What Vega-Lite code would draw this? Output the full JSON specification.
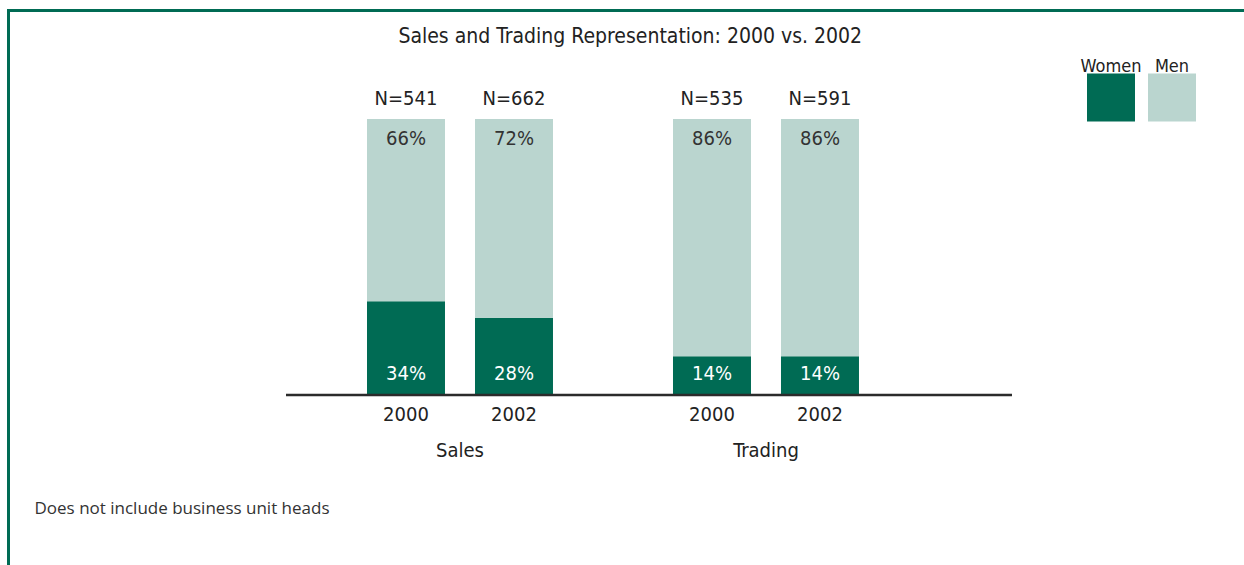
{
  "$schema": "https://vega.github.io/schema/vega-lite/v6.json",
  "autosize": {"type": "none"},
  "padding": {"left": 8.5, "top": 10.5, "right": -8, "bottom": -8},
  "width": 1243.5,
  "height": 562.5,
  "background": "white",
  "title": {
    "text": "Sales and Trading Representation: 2000 vs. 2002",
    "offset": -53,
    "baseline": "alphabetic",
    "anchor": "middle",
    "font": "DejaVu Sans Condensed, sans-serif",
    "fontSize": 21,
    "fontWeight": "normal",
    "color": "#222222"
  },
  "data": {
    "values": [
      {"group": "Sales", "year": "2000", "gender": "Women", "pct": 0.34, "nLabel": "N=541"},
      {"group": "Sales", "year": "2000", "gender": "Men", "pct": 0.66, "nLabel": "N=541"},
      {"group": "Sales", "year": "2002", "gender": "Women", "pct": 0.28, "nLabel": "N=662"},
      {"group": "Sales", "year": "2002", "gender": "Men", "pct": 0.72, "nLabel": "N=662"},
      {"group": "Trading", "year": "2000", "gender": "Women", "pct": 0.14, "nLabel": "N=535"},
      {"group": "Trading", "year": "2000", "gender": "Men", "pct": 0.86, "nLabel": "N=535"},
      {"group": "Trading", "year": "2002", "gender": "Women", "pct": 0.14, "nLabel": "N=591"},
      {"group": "Trading", "year": "2002", "gender": "Men", "pct": 0.86, "nLabel": "N=591"}
    ]
  },
  "layer": [
    {
      "mark": {"type": "bar"},
      "encoding": {
        "x": {
          "field": "group", "type": "nominal",
          "scale": {"domain": ["Sales", "Trading", " "], "paddingInner": 0, "paddingOuter": 0.5319, "align": 0.917},
          "axis": {
            "orient": "top", "domain": false, "ticks": false, "labels": false, "grid": false,
            "title": "Does not include business unit heads",
            "titleX": 25.5, "titleY": 503, "titleAlign": "left", "titleAnchor": "start",
            "titleBaseline": "alphabetic", "titleFont": "Open Sans", "titleFontSize": 17,
            "titleFontWeight": "normal", "titleColor": "#333333"
          }
        },
        "xOffset": {
          "field": "year", "type": "nominal",
          "scale": {"paddingInner": 0.2778, "paddingOuter": 0.5556}
        },
        "y": {
          "field": "pct", "type": "quantitative", "stack": "zero",
          "scale": {"domain": [-0.6449, 1.3931], "nice": false, "zero": false},
          "axis": null
        },
        "color": {
          "field": "gender", "type": "nominal",
          "scale": {"domain": ["Women", "Men"], "range": ["#006B54", "#BAD5CF"]},
          "legend": {
            "title": null, "orient": "none", "legendX": 1078.5, "legendY": 63,
            "direction": "horizontal", "symbolType": "square", "symbolSize": 2304,
            "symbolStrokeWidth": 0, "labelAlign": "center", "labelOffset": -24,
            "labelBaseline": "alphabetic",
            "labelFont": "DejaVu Sans Condensed, sans-serif",
            "labelFontSize": 18, "labelColor": "#222222", "columnPadding": 6, "padding": 0,
            "encoding": {"labels": {"dy": {"value": -26}}}
          }
        },
        "order": {"field": "gender", "sort": "descending"}
      }
    },
    {
      "data": {"values": [{}]},
      "mark": {"type": "rule", "color": "#2b2b2b", "strokeWidth": 2.5},
      "encoding": {
        "x": {"datum": "Sales", "bandPosition": -0.0686},
        "x2": {"datum": "Trading", "bandPosition": 1.3039},
        "y": {"datum": 0}
      }
    },
    {
      "transform": [{"filter": "datum.gender == 'Men'"}],
      "mark": {"type": "text", "dy": 20, "baseline": "middle", "font": "DejaVu Sans Condensed, sans-serif", "fontSize": 20, "color": "#333333"},
      "encoding": {
        "x": {"field": "group", "type": "nominal"},
        "xOffset": {"field": "year", "type": "nominal"},
        "y": {"datum": 1},
        "text": {"field": "pct", "type": "quantitative", "format": ".0%"}
      }
    },
    {
      "transform": [{"filter": "datum.gender == 'Women'"}],
      "mark": {"type": "text", "dy": -21, "baseline": "middle", "font": "DejaVu Sans Condensed, sans-serif", "fontSize": 20, "color": "#ffffff"},
      "encoding": {
        "x": {"field": "group", "type": "nominal"},
        "xOffset": {"field": "year", "type": "nominal"},
        "y": {"datum": 0},
        "text": {"field": "pct", "type": "quantitative", "format": ".0%"}
      }
    },
    {
      "transform": [{"filter": "datum.gender == 'Men'"}],
      "mark": {"type": "text", "dy": -20, "baseline": "middle", "font": "DejaVu Sans Condensed, sans-serif", "fontSize": 20, "color": "#222222"},
      "encoding": {
        "x": {"field": "group", "type": "nominal"},
        "xOffset": {"field": "year", "type": "nominal"},
        "y": {"datum": 1},
        "text": {"field": "nLabel", "type": "nominal"}
      }
    },
    {
      "transform": [{"filter": "datum.gender == 'Men'"}],
      "mark": {"type": "text", "dy": 20, "baseline": "middle", "font": "DejaVu Sans Condensed, sans-serif", "fontSize": 20, "color": "#222222"},
      "encoding": {
        "x": {"field": "group", "type": "nominal"},
        "xOffset": {"field": "year", "type": "nominal"},
        "y": {"datum": 0},
        "text": {"field": "year", "type": "nominal"}
      }
    },
    {
      "transform": [{"filter": "datum.gender == 'Men' && datum.year == '2000'"}],
      "mark": {"type": "text", "dy": 56, "baseline": "middle", "font": "DejaVu Sans Condensed, sans-serif", "fontSize": 20, "color": "#222222"},
      "encoding": {
        "x": {"field": "group", "type": "nominal"},
        "y": {"datum": 0},
        "text": {"field": "group", "type": "nominal"}
      }
    }
  ],
  "config": {
    "view": {"stroke": "#006B54", "strokeWidth": 3}
  }
}
